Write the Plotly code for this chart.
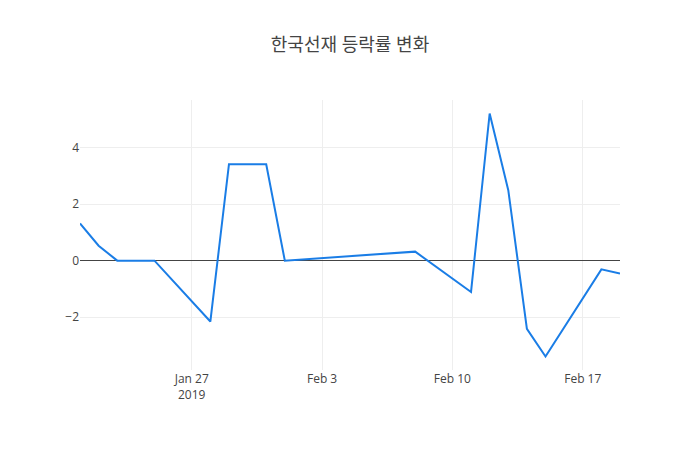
import plotly.graph_objects as go

dates = ["2019-01-21", "2019-01-22", "2019-01-23", "2019-01-25", "2019-01-28",
         "2019-01-29", "2019-01-31", "2019-02-01", "2019-02-08", "2019-02-11",
         "2019-02-12", "2019-02-13", "2019-02-14", "2019-02-15", "2019-02-18",
         "2019-02-19"]
rates = [1.32, 0.53, 0.0, 0.0, -2.16, 3.42, 3.42, 0.0, 0.32, -1.11,
         5.22, 2.50, -2.42, -3.40, -0.31, -0.46]

title_text = "한국선재 등락률 변화"

fig = go.Figure()
fig.add_trace(go.Scatter(x=dates, y=rates, mode="lines",
                         line=dict(color="#1a7de6", width=2)))
fig.update_layout(
    template="none",
    width=700, height=450,
    title=dict(text=title_text, x=(350 - 8) / 700, xanchor="center", y=1 - 37 / 450,
               yanchor="middle", font=dict(size=18, color="#444")),
    font=dict(family="Open Sans, Noto Sans CJK KR, sans-serif", color="#444", size=12),
    margin=dict(l=72, r=88, t=92, b=88),
    paper_bgcolor="white", plot_bgcolor="white",
    showlegend=False,
)
fig.update_xaxes(showgrid=True, gridcolor="#eee", zeroline=False, showline=False, ticks="")
fig.update_yaxes(showgrid=True, gridcolor="#eee", zeroline=True, zerolinecolor="#444",
                 zerolinewidth=1, showline=False, ticks="")
fig.write_html("out.html")
